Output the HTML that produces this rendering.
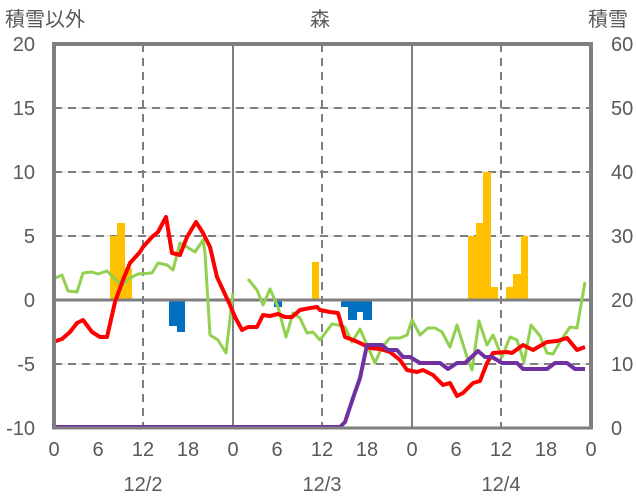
<!DOCTYPE html><html><head><meta charset="utf-8"><style>body{margin:0;background:#fff}svg{display:block}text{font-family:"Liberation Sans","Noto Sans CJK JP",sans-serif;fill:#595959;font-size:20px}</style></head><body>
<svg width="636" height="501" viewBox="0 0 636 501">
<g stroke="#d9d9d9" stroke-width="1"><line x1="54" y1="108" x2="591" y2="108"/><line x1="54" y1="172" x2="591" y2="172"/><line x1="54" y1="236" x2="591" y2="236"/><line x1="54" y1="364" x2="591" y2="364"/></g>
<g stroke="#7f7f7f" stroke-width="2" stroke-dasharray="8,6"><line x1="54" y1="108" x2="591" y2="108"/><line x1="54" y1="172" x2="591" y2="172"/><line x1="54" y1="236" x2="591" y2="236"/><line x1="54" y1="364" x2="591" y2="364"/><line x1="143" y1="44" x2="143" y2="427"/><line x1="322" y1="44" x2="322" y2="427"/><line x1="501" y1="44" x2="501" y2="427"/></g>
<g stroke="#7f7f7f" stroke-width="2"><line x1="233" y1="44" x2="233" y2="427"/><line x1="412" y1="44" x2="412" y2="427"/></g>
<g fill="#FFC000"><rect x="110" y="236" width="8" height="64"/><rect x="117" y="223" width="8" height="77"/><rect x="125" y="268" width="7" height="32"/><rect x="312" y="262" width="7" height="38"/><rect x="468" y="236" width="8" height="64"/><rect x="476" y="223" width="7" height="77"/><rect x="483" y="172" width="8" height="128"/><rect x="491" y="287" width="7" height="13"/><rect x="506" y="287" width="7" height="13"/><rect x="513" y="274" width="8" height="26"/><rect x="521" y="236" width="7" height="64"/></g>
<g fill="#0070C0"><rect x="169" y="300" width="8" height="26"/><rect x="177" y="300" width="8" height="32"/><rect x="274" y="300" width="8" height="7"/><rect x="341" y="300" width="7" height="7"/><rect x="348" y="300" width="9" height="20"/><rect x="357" y="300" width="6" height="12"/><rect x="363" y="300" width="9" height="20"/></g>
<line x1="54" y1="300" x2="591" y2="300" stroke="#7f7f7f" stroke-width="3"/>
<g fill="none" stroke-linejoin="round">
<polyline stroke="#92D050" stroke-width="3" points="53,279 62,275 68,291 77,292 83,273 92,272 98,274 107,271 115,279 122,285 130,278 138,274 152,273 158,263 167,265 173,270 180,243 187,247 195,252 203,240 205,253 210,335 218,340 226,353 233,293"/>
<polyline stroke="#92D050" stroke-width="3" points="248,279 257,290 263,305 270,289 278,307 286,337 293,313 300,318 307,333 313,332 320,340 332,324 338,325 345,327 352,342 360,329 367,345 375,363 382,347 390,338 400,338 407,335 412,320 420,335 428,328 435,328 442,332 450,347 457,325 467,357 472,370 479,321 487,345 493,335 502,357 510,337 517,340 524,362 531,325 540,336 547,353 553,354 560,342 570,327 577,328 585,282"/>
<polyline stroke="#FF0000" stroke-width="4" points="53,342 62,339 70,332 77,323 83,320 92,332 100,337 107,337 115,302 123,280 130,263 140,252 143,247 152,237 158,232 166,217 172,253 180,255 187,237 196,222 203,233 210,247 217,277 223,290 230,305 235,317 242,330 248,327 257,327 263,315 270,316 278,314 285,317 292,317 300,310 310,308 317,307 320,310 330,312 338,313 345,337 353,340 360,343 370,348 380,349 390,352 400,360 407,370 417,372 423,370 433,375 443,385 450,383 457,396 463,393 473,383 480,381 487,363 493,353 507,352 512,353 523,345 533,350 547,342 557,341 567,338 577,350 585,347"/>
<polyline stroke="#7030A0" stroke-width="4" points="54,427 340,427 345,422 353,398 360,378 367,345 382,345 388,350 397,350 403,357 410,357 420,363 440,363 448,369 457,363 465,363 478,351 485,357 492,357 502,363 517,363 523,369 547,369 555,363 567,363 575,369 585,369"/>
</g>
<path d="M54 428 V44 H591 V428" fill="none" stroke="#7f7f7f" stroke-width="4"/>
<line x1="52" y1="428" x2="593" y2="428" stroke="#7f7f7f" stroke-width="3"/>
<text x="5" y="26">積雪以外</text><text x="310" y="26">森</text><text x="588" y="26">積雪</text>
<g text-anchor="end"><text x="35" y="51">20</text><text x="35" y="115">15</text><text x="35" y="179">10</text><text x="35" y="243">5</text><text x="35" y="307">0</text><text x="35" y="371">-5</text><text x="35" y="435">-10</text></g>
<g><text x="611" y="51">60</text><text x="611" y="115">50</text><text x="611" y="179">40</text><text x="611" y="243">30</text><text x="611" y="307">20</text><text x="611" y="371">10</text><text x="611" y="435">0</text></g>
<g text-anchor="middle"><text x="54" y="456">0</text><text x="98" y="456">6</text><text x="143" y="456">12</text><text x="188" y="456">18</text><text x="233" y="456">0</text><text x="277" y="456">6</text><text x="322" y="456">12</text><text x="367" y="456">18</text><text x="412" y="456">0</text><text x="456" y="456">6</text><text x="501" y="456">12</text><text x="546" y="456">18</text><text x="591" y="456">0</text>
<text x="143" y="491">12/2</text><text x="322" y="491">12/3</text><text x="501" y="491">12/4</text></g>
</svg></body></html>
